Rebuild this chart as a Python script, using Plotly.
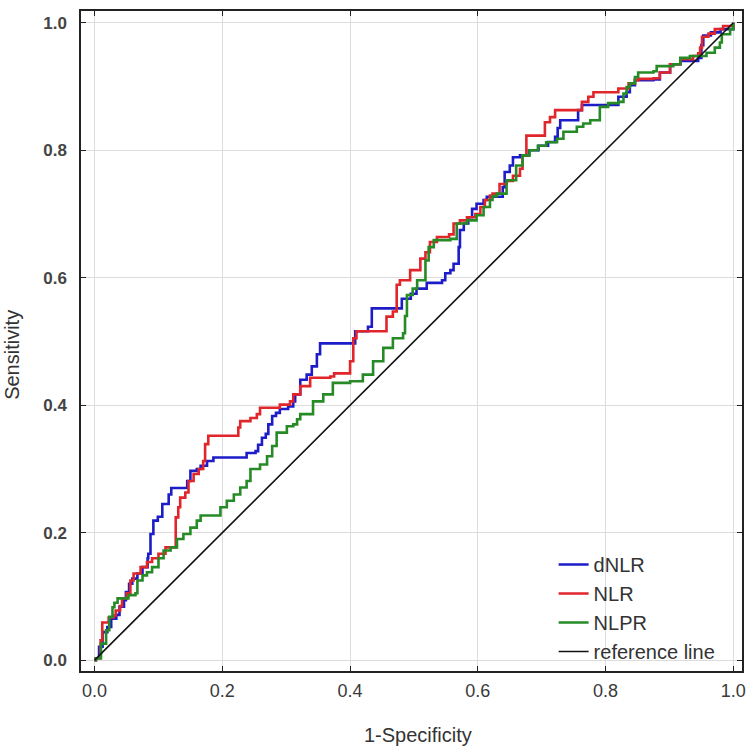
import plotly.graph_objects as go

# ---- data ----
dnlr_x = [0, 0.002, 0.007, 0.0125, 0.02, 0.026, 0.034, 0.039, 0.046, 0.049, 0.054, 0.059, 0.067, 0.075, 0.083,
          0.084, 0.0875, 0.092, 0.099, 0.106, 0.116, 0.12, 0.137, 0.145, 0.15, 0.16, 0.166, 0.176, 0.186, 0.233,
          0.238, 0.252, 0.256, 0.262, 0.268, 0.272, 0.278, 0.284, 0.29, 0.303, 0.311, 0.314, 0.322, 0.332, 0.34,
          0.348, 0.353, 0.403, 0.408, 0.428, 0.434, 0.478, 0.481, 0.495, 0.504, 0.52, 0.544, 0.549, 0.557, 0.562,
          0.57, 0.572, 0.578, 0.585, 0.591, 0.598, 0.609, 0.614, 0.634, 0.639, 0.642, 0.65, 0.655, 0.666, 0.68,
          0.695, 0.71, 0.721, 0.725, 0.729, 0.755, 0.757, 0.763, 0.818, 0.82, 0.833, 0.838, 0.846, 0.875, 0.885,
          0.901, 0.917, 0.927, 0.945, 0.95, 0.953, 0.965, 0.98, 1.0]
dnlr_y = [0, 0.003, 0.021, 0.044, 0.052, 0.065, 0.071, 0.084, 0.094, 0.107, 0.12, 0.128, 0.136, 0.146, 0.16,
          0.167, 0.198, 0.219, 0.225, 0.245, 0.26, 0.27, 0.27, 0.281, 0.297, 0.30, 0.305, 0.3125, 0.318, 0.318,
          0.325, 0.328, 0.338, 0.349, 0.355, 0.37, 0.383, 0.388, 0.394, 0.398, 0.406, 0.417, 0.44, 0.448, 0.461,
          0.48, 0.497, 0.497, 0.516, 0.523, 0.552, 0.552, 0.567, 0.575, 0.583, 0.592, 0.596, 0.607, 0.612, 0.622,
          0.648, 0.675, 0.685, 0.695, 0.708, 0.716, 0.722, 0.727, 0.727, 0.742, 0.766, 0.776, 0.789, 0.792, 0.80,
          0.807, 0.813, 0.821, 0.835, 0.847, 0.847, 0.863, 0.871, 0.871, 0.884, 0.891, 0.902, 0.91, 0.911, 0.922,
          0.935, 0.94, 0.94, 0.945, 0.965, 0.98, 0.985, 0.99, 1.0]

nlr_x = [0, 0.002, 0.0094, 0.012, 0.02, 0.022, 0.03, 0.033, 0.04, 0.043, 0.05, 0.056, 0.061, 0.072, 0.082,
         0.09, 0.1, 0.111, 0.12, 0.127, 0.127, 0.131, 0.134, 0.142, 0.147, 0.155, 0.163, 0.17, 0.173, 0.178,
         0.22, 0.225, 0.228, 0.244, 0.254, 0.259, 0.285, 0.29, 0.306, 0.311, 0.322, 0.3375, 0.369, 0.375, 0.395,
         0.4, 0.405, 0.41, 0.447, 0.457, 0.467, 0.473, 0.478, 0.494, 0.51, 0.518, 0.525, 0.536, 0.555, 0.562,
         0.572, 0.583, 0.596, 0.604, 0.611, 0.619, 0.623, 0.634, 0.645, 0.655, 0.666, 0.67, 0.676, 0.697, 0.705,
         0.713, 0.721, 0.755, 0.763, 0.773, 0.781, 0.815, 0.82, 0.833, 0.836, 0.846, 0.851, 0.875, 0.885, 0.901,
         0.917, 0.937, 0.945, 0.948, 0.951, 0.961, 0.971, 0.984, 1.0]
nlr_y = [0, 0.003, 0.031, 0.059, 0.059, 0.067, 0.07, 0.078, 0.085, 0.097, 0.105, 0.125, 0.136, 0.146, 0.154,
         0.16, 0.167, 0.177, 0.177, 0.183, 0.224, 0.24, 0.255, 0.263, 0.281, 0.292, 0.30, 0.3125, 0.339, 0.352,
         0.352, 0.365, 0.375, 0.38, 0.386, 0.396, 0.396, 0.401, 0.406, 0.417, 0.43, 0.443, 0.445, 0.45, 0.45,
         0.469, 0.505, 0.516, 0.516, 0.539, 0.547, 0.589, 0.596, 0.612, 0.63, 0.64, 0.656, 0.664, 0.668, 0.685,
         0.69, 0.695, 0.70, 0.711, 0.722, 0.729, 0.732, 0.747, 0.752, 0.76, 0.771, 0.792, 0.823, 0.823, 0.844,
         0.852, 0.863, 0.863, 0.876, 0.884, 0.891, 0.891, 0.897, 0.897, 0.905, 0.91, 0.912, 0.913, 0.922, 0.935,
         0.943, 0.948, 0.952, 0.961, 0.978, 0.983, 0.99, 0.995, 1.0]

nlpr_x = [0, 0.002, 0.01, 0.018, 0.023, 0.028, 0.031, 0.036, 0.048, 0.053, 0.064, 0.067, 0.075, 0.082, 0.09,
          0.1, 0.108, 0.119, 0.129, 0.139, 0.15, 0.16, 0.166, 0.186, 0.197, 0.207, 0.218, 0.228, 0.238, 0.244,
          0.259, 0.27, 0.278, 0.285, 0.301, 0.311, 0.317, 0.322, 0.342, 0.358, 0.373, 0.4, 0.42, 0.436, 0.452,
          0.467, 0.483, 0.486, 0.489, 0.498, 0.505, 0.518, 0.523, 0.531, 0.557, 0.567, 0.583, 0.598, 0.609, 0.619,
          0.623, 0.63, 0.645, 0.66, 0.67, 0.681, 0.694, 0.707, 0.724, 0.734, 0.755, 0.765, 0.776, 0.789, 0.791,
          0.804, 0.82, 0.828, 0.833, 0.838, 0.846, 0.851, 0.875, 0.88, 0.906, 0.917, 0.932, 0.953, 0.958, 0.971,
          0.979, 0.982, 0.995, 1.0]
nlpr_y = [0, 0.003, 0.026, 0.047, 0.068, 0.083, 0.09, 0.097, 0.097, 0.102, 0.105, 0.125, 0.133, 0.138, 0.146,
          0.16, 0.172, 0.177, 0.19, 0.198, 0.208, 0.219, 0.227, 0.227, 0.24, 0.25, 0.26, 0.271, 0.281, 0.30,
          0.307, 0.32, 0.336, 0.357, 0.367, 0.37, 0.378, 0.386, 0.406, 0.417, 0.435, 0.4375, 0.448, 0.469, 0.49,
          0.505, 0.513, 0.54, 0.573, 0.583, 0.596, 0.627, 0.648, 0.659, 0.661, 0.685, 0.69, 0.698, 0.711, 0.722,
          0.728, 0.732, 0.753, 0.776, 0.792, 0.80, 0.807, 0.8125, 0.818, 0.829, 0.837, 0.842, 0.847, 0.847, 0.868,
          0.874, 0.876, 0.889, 0.899, 0.905, 0.915, 0.922, 0.924, 0.932, 0.935, 0.945, 0.948, 0.948, 0.953, 0.961,
          0.969, 0.982, 0.99, 1.0]

ref_x = [0, 1]
ref_y = [0, 1]

tick_vals = [0.0, 0.2, 0.4, 0.6, 0.8, 1.0]
tick_text = ["0.0", "0.2", "0.4", "0.6", "0.8", "1.0"]

x_title = "1-Specificity"
y_title = "Sensitivity"

series = [
    ("dNLR", dnlr_x, dnlr_y, "#1c1cc8"),
    ("NLR", nlr_x, nlr_y, "#e0252b"),
    ("NLPR", nlpr_x, nlpr_y, "#268a26"),
]

REG = "Liberation Sans, Arial, sans-serif"

fig = go.Figure()
for name, xs, ys, color in series:
    fig.add_trace(go.Scatter(x=xs, y=ys, mode="lines", name=name,
                             line=dict(color=color, width=2.6, shape="hv")))
fig.add_trace(go.Scatter(x=ref_x, y=ref_y, mode="lines", name="reference line",
                         line=dict(color="#111111", width=1.6)))

axis_common = dict(
    showline=True, linecolor="#222222", linewidth=1.5, mirror="ticks",
    ticks="inside", ticklen=5, tickcolor="#222222", tickwidth=1,
    showgrid=True, gridcolor="#dcdcdc", gridwidth=1,
    zeroline=False, tickvals=tick_vals, ticktext=tick_text,
    automargin=False,
)

fig.update_layout(
    width=750, height=749,
    paper_bgcolor="white", plot_bgcolor="white",
    margin=dict(l=81, r=8, t=11, b=78),
    showlegend=True,
    legend=dict(x=0.715, y=0.0, xanchor="left", yanchor="bottom",
                bgcolor="rgba(255,255,255,0)", borderwidth=0,
                font=dict(family=REG, size=20, color="#333333"),
                tracegroupgap=0, itemwidth=30),
    xaxis=dict(range=[-0.0213, 1.0136],
               tickfont=dict(family=REG, size=18, color="#3a3a3a"),
               ticklabelstandoff=3,
               **axis_common),
    yaxis=dict(range=[-0.017, 1.0185],
               tickfont=dict(family=REG, size=17, color="#444444", weight="bold"),
               ticklabelstandoff=9,
               **axis_common),
    annotations=[
        dict(text=x_title, xref="paper", yref="paper", x=0.51, y=-0.097,
             xanchor="center", yanchor="middle", showarrow=False,
             font=dict(family=REG, size=20, color="#333333")),
        dict(text=y_title, xref="paper", yref="paper", x=-0.1044, y=0.479,
             xanchor="center", yanchor="middle", showarrow=False, textangle=-90,
             font=dict(family=REG, size=20, color="#333333")),
    ],
)

# remove the browser's default body margin so the 750x749 figure fills the window
fig.write_html("out.html",
               config={"displayModeBar": False},
               post_script="document.body.style.margin='0';document.body.style.overflow='hidden';")
